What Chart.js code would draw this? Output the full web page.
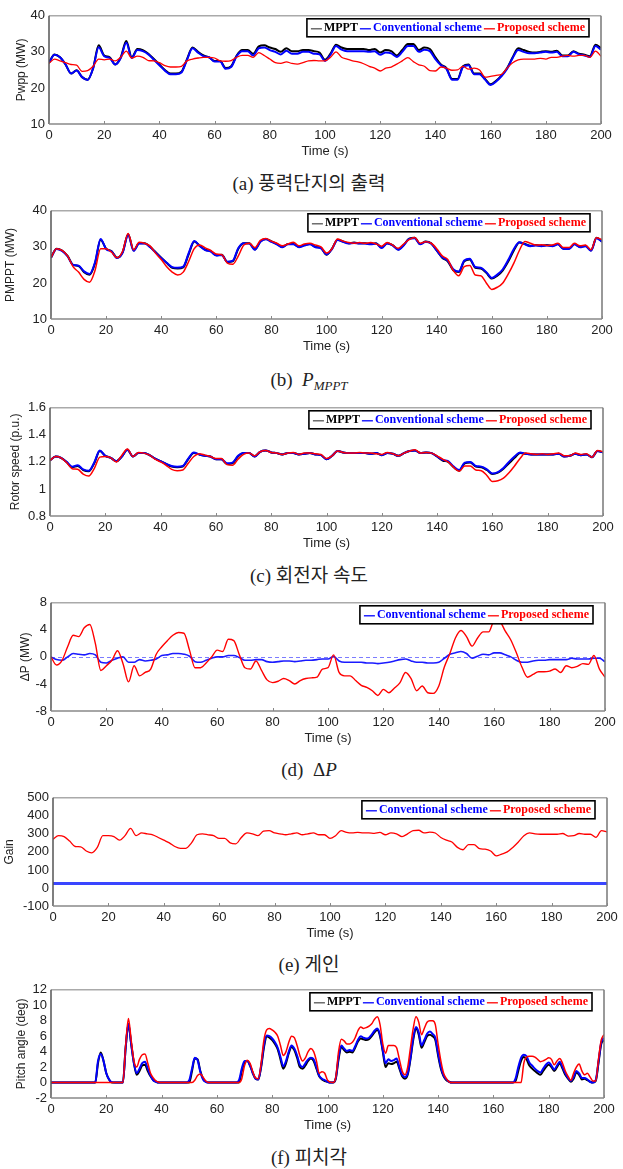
<!DOCTYPE html>
<html>
<head>
<meta charset="utf-8">
<script src="https://cdn.jsdelivr.net/npm/chart.js@4.4.1/dist/chart.umd.min.js"></script>
<style>
  body { margin: 0; background: #fff; }
  #wrap { position: relative; width: 623px; height: 1169px; overflow: hidden; }
  canvas { position: absolute; left: 0; }
  .cap { position: absolute; left: 0; width: 618px; text-align: center; font: 19px "Liberation Serif", "Noto Sans CJK KR"; line-height: 24px; color: #222; }
  .cap i { font-family: "Liberation Serif"; }
  .cap sub { font-size: 13px; vertical-align: -4px; }
</style>
</head>
<body>
<div id="wrap">
  <div class="cap" style="top:172px">(a) 풍력단지의 출력</div>
  <div class="cap" style="top:368px">(b)&nbsp; <i>P<sub>MPPT</sub></i></div>
  <div class="cap" style="top:564px">(c) 회전자 속도</div>
  <div class="cap" style="top:758px">(d)&nbsp; Δ<i>P</i></div>
  <div class="cap" style="top:953px">(e) 게인</div>
  <div class="cap" style="top:1146px">(f) 피치각</div>
</div>
<script>
// time axis (s)
const time2 = [
  0, 2, 4, 6, 8, 10, 12, 14, 16, 18,
  20, 22, 24, 26, 28, 30, 32, 34, 36, 38,
  40, 42, 44, 46, 48, 50, 52, 54, 56, 58,
  60, 62, 64, 66, 68, 70, 72, 74, 76, 78,
  80, 82, 84, 86, 88, 90, 92, 94, 96, 98,
  100, 102, 104, 106, 108, 110, 112, 114, 116, 118,
  120, 122, 124, 126, 128, 130, 132, 134, 136, 138,
  140, 142, 144, 146, 148, 150, 152, 154, 156, 158,
  160, 162, 164, 166, 168, 170, 172, 174, 176, 178,
  180, 182, 184, 186, 188, 190, 192, 194, 196, 198,
  200]
const time1 = [
  0, 1, 2, 3, 4, 5, 6, 7, 8, 9, 10, 11, 12, 13, 14, 15, 16, 17, 18, 19,
  20, 21, 22, 23, 24, 25, 26, 27, 28, 29, 30, 31, 32, 33, 34, 35, 36, 37, 38, 39,
  40, 41, 42, 43, 44, 45, 46, 47, 48, 49, 50, 51, 52, 53, 54, 55, 56, 57, 58, 59,
  60, 61, 62, 63, 64, 65, 66, 67, 68, 69, 70, 71, 72, 73, 74, 75, 76, 77, 78, 79,
  80, 81, 82, 83, 84, 85, 86, 87, 88, 89, 90, 91, 92, 93, 94, 95, 96, 97, 98, 99,
  100, 101, 102, 103, 104, 105, 106, 107, 108, 109, 110, 111, 112, 113, 114, 115, 116, 117, 118, 119,
  120, 121, 122, 123, 124, 125, 126, 127, 128, 129, 130, 131, 132, 133, 134, 135, 136, 137, 138, 139,
  140, 141, 142, 143, 144, 145, 146, 147, 148, 149, 150, 151, 152, 153, 154, 155, 156, 157, 158, 159,
  160, 161, 162, 163, 164, 165, 166, 167, 168, 169, 170, 171, 172, 173, 174, 175, 176, 177, 178, 179,
  180, 181, 182, 183, 184, 185, 186, 187, 188, 189, 190, 191, 192, 193, 194, 195, 196, 197, 198, 199,
  200]

// (a) wind farm output Pwpp (MW)
const pwppMppt = [
  27.0, 29.3, 28.5, 26.5, 24.0, 24.9, 23.0, 22.3, 25.5, 31.8,
  29.0, 28.5, 26.5, 28.5, 33.0, 28.5, 30.8, 30.5, 29.5, 28.0,
  26.5, 25.0, 24.0, 24.0, 24.5, 28.0, 31.2, 30.0, 29.0, 28.5,
  27.5, 27.5, 25.5, 26.0, 29.0, 30.5, 30.5, 29.5, 31.5, 31.8,
  31.2, 30.8, 30.0, 31.0, 30.2, 30.2, 30.5, 30.5, 30.2, 29.8,
  27.8, 29.5, 32.0, 31.2, 30.8, 30.8, 30.8, 30.8, 30.5, 30.8,
  29.8, 30.5, 30.2, 29.0, 30.5, 32.2, 32.2, 30.5, 31.2, 30.8,
  28.5, 26.5, 25.5, 22.5, 22.5, 26.0, 26.5, 24.0, 24.0, 22.5,
  21.0, 22.0, 23.5, 25.5, 28.5, 31.0, 30.5, 30.0, 29.8, 30.0,
  30.2, 30.0, 30.3, 29.0, 29.0, 30.2, 29.5, 29.2, 28.8, 32.0,
  31.0]
const pwppConv = [
  27.0, 29.2, 28.5, 26.5, 24.0, 24.8, 23.0, 22.2, 25.5, 31.3,
  28.8, 28.3, 26.5, 28.3, 32.5, 28.3, 30.5, 30.2, 29.3, 27.8,
  26.3, 24.8, 23.8, 23.8, 24.3, 27.8, 31.0, 29.8, 28.8, 28.5,
  27.3, 27.3, 25.3, 25.8, 28.8, 30.2, 30.2, 29.0, 31.0, 31.2,
  30.5, 30.0, 29.3, 30.3, 29.5, 29.5, 30.0, 30.0, 29.5, 29.3,
  27.5, 29.2, 31.6, 30.6, 30.2, 30.2, 30.2, 30.2, 30.0, 30.2,
  29.2, 29.8, 29.6, 28.6, 30.0, 31.6, 31.6, 30.0, 30.6, 30.2,
  28.0, 26.3, 25.3, 22.3, 22.3, 25.8, 26.3, 23.8, 23.8, 22.3,
  20.8, 21.8, 23.3, 25.3, 28.3, 30.5, 30.0, 29.6, 29.6, 29.8,
  30.0, 29.8, 30.0, 28.8, 28.8, 30.0, 29.3, 29.0, 28.6, 31.6,
  30.6]
const pwppProp = [
  26.8, 28.0, 27.5, 27.0, 26.5, 26.3, 24.6, 24.8, 26.0, 28.0,
  27.8, 28.0, 27.5, 28.5, 30.2, 28.3, 28.8, 28.5, 27.6, 27.5,
  27.0, 26.2, 25.8, 25.8, 26.0, 27.5, 28.0, 28.3, 28.5, 28.5,
  28.3, 27.5, 27.4, 27.6, 28.5, 29.0, 29.0, 28.5, 29.8, 29.0,
  28.0, 27.0, 26.8, 27.2, 26.8, 26.6, 27.0, 27.5, 27.6, 27.5,
  27.5, 28.5, 30.0, 28.5, 28.0, 27.5, 27.2, 26.7, 26.0, 25.5,
  24.7, 25.5, 25.8, 26.6, 27.5, 28.4, 27.3, 26.4, 26.0, 24.8,
  24.7, 25.8, 25.5, 24.9, 25.0, 26.0, 25.2, 25.5, 25.0, 23.0,
  23.2, 23.5, 23.8, 25.5, 27.0, 27.8, 28.0, 28.0, 28.0, 28.2,
  28.0, 28.5, 28.5, 28.8, 29.0, 28.8, 29.0, 29.0, 28.5, 30.2,
  28.8]

// (b) PMPPT (MW)
const pmpptMppt = [
  27.0, 29.5, 29.0, 27.5, 25.0, 24.7, 23.0, 22.3, 25.5, 32.0,
  29.5, 28.8, 27.0, 28.5, 33.5, 29.0, 31.0, 31.0, 30.0, 28.5,
  27.0, 25.5, 24.2, 24.0, 24.3, 28.0, 31.5, 30.3, 29.2, 28.8,
  27.7, 27.8, 25.8, 26.0, 29.5, 31.0, 31.0, 29.3, 31.5, 32.2,
  31.5, 30.8, 30.0, 30.8, 30.8, 30.0, 30.5, 30.8, 30.0, 29.7,
  27.8, 29.5, 32.0, 31.5, 31.0, 31.2, 31.0, 31.0, 30.8, 31.0,
  29.8, 31.0, 30.5, 29.3, 30.5, 32.3, 32.5, 30.8, 31.5, 31.0,
  29.0, 27.0, 26.0, 23.5, 23.0, 26.0, 26.5, 24.2, 24.0, 22.8,
  21.2, 22.0, 23.5, 26.0, 29.0, 31.2, 30.8, 30.3, 30.5, 30.3,
  30.5, 30.3, 30.8, 29.5, 29.5, 30.8, 30.0, 30.3, 29.0, 32.5,
  31.5]
const pmpptConv = [
  27.0, 29.4, 28.9, 27.4, 25.0, 24.8, 23.2, 22.5, 25.8, 32.2,
  29.4, 28.7, 26.9, 28.4, 33.3, 28.9, 30.9, 30.9, 29.9, 28.4,
  26.9, 25.6, 24.4, 24.2, 24.5, 28.3, 31.6, 30.2, 29.1, 28.7,
  27.6, 27.7, 25.9, 26.2, 29.7, 31.0, 30.9, 29.2, 31.4, 32.1,
  31.4, 30.7, 29.9, 30.7, 30.7, 29.9, 30.4, 30.7, 29.9, 29.6,
  27.9, 29.4, 31.9, 31.4, 30.9, 31.1, 30.9, 30.9, 30.7, 30.9,
  29.7, 30.9, 30.4, 29.2, 30.4, 32.2, 32.4, 30.7, 31.4, 30.9,
  29.0, 27.1, 26.2, 23.8, 23.2, 26.2, 26.7, 24.4, 24.2, 23.0,
  21.4, 22.3, 23.8, 26.4, 29.4, 31.3, 30.7, 30.2, 30.4, 30.2,
  30.4, 30.2, 30.7, 29.4, 29.4, 30.7, 29.9, 30.2, 28.9, 32.4,
  31.4]
const pmpptProp = [
  27.0, 29.5, 29.0, 27.5, 24.5, 23.0, 21.0, 20.2, 23.5, 29.5,
  29.5, 28.5, 27.0, 28.8, 33.7, 29.2, 31.3, 31.0, 30.2, 28.2,
  26.5, 24.5, 23.0, 22.2, 23.0, 26.0, 29.5, 30.5, 29.7, 29.0,
  28.0, 27.8, 25.5, 25.2, 27.5, 30.5, 31.0, 29.8, 31.8, 32.3,
  31.6, 31.0, 30.3, 30.8, 31.3, 30.3, 30.8, 31.0, 30.5, 30.0,
  28.3, 29.5, 32.2, 31.6, 31.2, 31.0, 31.2, 31.0, 31.2, 30.8,
  30.2, 31.2, 30.5, 29.6, 30.8, 32.0, 32.6, 31.0, 31.4, 31.0,
  29.5, 27.5, 26.5, 23.5, 22.0, 24.5, 24.8, 22.2, 22.0, 20.0,
  18.2, 18.8, 20.0, 22.5, 25.5, 29.0, 31.5, 31.0, 30.5, 30.6,
  30.4, 30.5, 31.0, 29.8, 29.8, 31.0, 30.3, 30.5, 29.2, 32.5,
  32.0]

// (c) rotor speed (p.u.)
const speedMppt = [
  1.21, 1.24, 1.23, 1.20, 1.16, 1.17, 1.14, 1.13, 1.19, 1.28,
  1.245, 1.23, 1.205, 1.24, 1.29, 1.24, 1.265, 1.265, 1.25, 1.225,
  1.205, 1.185, 1.165, 1.16, 1.165, 1.22, 1.265, 1.255, 1.245, 1.24,
  1.22, 1.22, 1.185, 1.19, 1.24, 1.265, 1.265, 1.24, 1.275, 1.285,
  1.27, 1.265, 1.255, 1.265, 1.265, 1.255, 1.26, 1.265, 1.255, 1.25,
  1.22, 1.245, 1.28, 1.27, 1.265, 1.265, 1.265, 1.265, 1.26, 1.265,
  1.25, 1.265, 1.26, 1.245, 1.265, 1.28, 1.285, 1.265, 1.27, 1.265,
  1.24, 1.21, 1.20, 1.16, 1.135, 1.19, 1.195, 1.165, 1.16, 1.14,
  1.11, 1.12, 1.15, 1.19, 1.23, 1.265, 1.26, 1.255, 1.255, 1.255,
  1.255, 1.255, 1.26, 1.24, 1.245, 1.26, 1.25, 1.255, 1.235, 1.28,
  1.27]
const speedConv = [
  1.21, 1.24, 1.23, 1.20, 1.165, 1.175, 1.145, 1.135, 1.195, 1.285,
  1.245, 1.23, 1.205, 1.24, 1.29, 1.24, 1.265, 1.265, 1.25, 1.225,
  1.205, 1.185, 1.17, 1.165, 1.17, 1.225, 1.27, 1.255, 1.245, 1.24,
  1.22, 1.22, 1.19, 1.195, 1.245, 1.265, 1.265, 1.24, 1.275, 1.285,
  1.27, 1.265, 1.255, 1.265, 1.265, 1.255, 1.26, 1.265, 1.255, 1.25,
  1.22, 1.245, 1.28, 1.27, 1.265, 1.265, 1.265, 1.265, 1.26, 1.265,
  1.25, 1.265, 1.26, 1.245, 1.265, 1.28, 1.285, 1.265, 1.27, 1.265,
  1.24, 1.215, 1.205, 1.165, 1.14, 1.195, 1.2, 1.17, 1.165, 1.145,
  1.115, 1.125, 1.155, 1.2, 1.24, 1.27, 1.26, 1.255, 1.255, 1.255,
  1.255, 1.255, 1.26, 1.24, 1.245, 1.26, 1.25, 1.255, 1.235, 1.28,
  1.27]
const speedProp = [
  1.21, 1.24, 1.23, 1.195, 1.15, 1.145, 1.11, 1.095, 1.15, 1.235,
  1.24, 1.23, 1.20, 1.25, 1.295, 1.24, 1.27, 1.265, 1.25, 1.22,
  1.20, 1.175, 1.145, 1.135, 1.14, 1.19, 1.24, 1.26, 1.25, 1.24,
  1.225, 1.225, 1.18, 1.175, 1.22, 1.255, 1.265, 1.245, 1.275, 1.285,
  1.27, 1.265, 1.255, 1.265, 1.27, 1.255, 1.265, 1.265, 1.26, 1.255,
  1.225, 1.245, 1.28, 1.27, 1.265, 1.265, 1.27, 1.265, 1.265, 1.26,
  1.255, 1.27, 1.26, 1.245, 1.265, 1.28, 1.29, 1.265, 1.27, 1.265,
  1.245, 1.22, 1.20, 1.16, 1.13, 1.17, 1.17, 1.14, 1.135, 1.10,
  1.055, 1.06, 1.08, 1.12, 1.17, 1.225, 1.265, 1.26, 1.255, 1.26,
  1.255, 1.26, 1.265, 1.245, 1.245, 1.265, 1.255, 1.26, 1.235, 1.285,
  1.275]

// (d) delta P (MW)
const dpConv = [
  0, -0.4, -0.5, 0, 0.5, 0.4, 0.3, 0.5, 0.3, -0.8,
  -0.9, -0.5, -0.2, 0, -0.8, -0.8, -0.4, -0.6, -0.5, -0.3,
  0.2, 0.3, 0.5, 0.5, 0.4, 0.1, -0.7, -0.8, -0.5, -0.2,
  0, 0, 0.2, 0.2, -0.1, -0.5, -0.5, -0.4, -0.4, -0.7,
  -0.8, -0.7, -0.6, -0.6, -0.7, -0.6, -0.5, -0.5, -0.4, -0.3,
  -0.3, 0.1, -0.6, -0.8, -0.8, -0.8, -0.8, -0.9, -0.9, -1.0,
  -0.9, -0.8, -0.6, -0.4, -0.3, -0.6, -0.8, -0.8, -0.9, -0.9,
  -0.8, -0.2, 0.4, 0.6, 0.8, 0.5, -0.2, 0.1, 0.4, 0.3,
  0.6, 0.6, 0.3, 0, -0.5, -0.8, -0.8, -0.6, -0.5, -0.5,
  -0.4, -0.4, -0.4, -0.4, -0.2, -0.3, -0.3, -0.3, -0.2, -0.2,
  -0.7]
const dpProp = [
  0, -1.2, -0.5, 1.5, 3.2, 3.0, 4.3, 4.8, 2.0, -2.0,
  -1.3, -0.5, 0.9, -1.0, -3.7, -1.3, -2.8, -2.3, -1.8, 0.4,
  1.5, 2.4, 3.2, 3.6, 3.5, 1.0, -1.6, -1.6, -0.9, 0.0,
  1.0, 0.8, 2.6, 2.4, 0.3, -1.6, -1.8, -0.6, -2.0, -3.4,
  -3.8, -3.6, -3.2, -3.5, -4.0, -3.5, -3.2, -3.1, -3.0, -1.8,
  -1.6, 0.3, -2.3, -2.8, -2.8, -3.5, -4.2, -4.5, -5.0, -5.7,
  -4.8, -5.3, -4.6, -3.8, -2.3, -3.2, -5.0, -4.3, -5.3, -5.4,
  -4.3, -1.5, 0.5, 2.8, 3.9, 3.0, 1.6, 2.8, 3.7, 3.7,
  5.3, 5.2, 3.8, 2.5, 0.6, -1.5, -3.0, -2.6, -2.2, -2.2,
  -2.1, -1.8, -2.3, -1.3, -1.6, -1.4, -1.0, -1.1, 0.2, -1.8,
  -3.0]

// (e) gain
const gainConvTime = [0, 200]
const gainConv = [25, 25]
const gainProp = [
  270, 290, 285, 260, 230, 228, 205, 195, 225, 290,
  290, 285, 265, 290, 330, 290, 305, 300, 295, 280,
  265, 250, 230, 220, 220, 250, 295, 300, 295, 290,
  275, 275, 250, 245, 280, 305, 300, 290, 315, 318,
  305, 300, 295, 300, 305, 295, 300, 305, 295, 295,
  275, 290, 318, 308, 305, 308, 305, 305, 303, 308,
  295, 305, 300, 285, 300, 318, 320, 305, 310, 305,
  280, 265, 255, 225, 212, 240, 240, 218, 215, 205,
  178, 188, 200, 225, 255, 290, 305, 300, 298, 298,
  298, 298, 302, 288, 290, 302, 298, 298, 280, 318,
  310]

// (f) pitch angle (deg), 1 s steps
const pitchMppt = [
  0, 0, 0, 0, 0, 0, 0, 0, 0, 0,
  0, 0, 0, 0, 0, 0, 0, 2.5, 3.9, 2.8,
  1.2, 0.4, 0, 0, 0, 0, 0, 4.5, 7.5, 5.0,
  2.5, 1.0, 1.5, 2.2, 2.3, 1.5, 0.8, 0.3, 0.1, 0,
  0, 0, 0, 0, 0, 0, 0, 0, 0, 0,
  0, 1.5, 3.1, 3.0, 1.5, 0.5, 0.1, 0, 0, 0,
  0, 0, 0, 0, 0, 0, 0, 0, 0, 1.5,
  2.6, 2.8, 2.2, 1.2, 0.5, 0.4, 2.0, 4.5, 6.0, 5.8,
  5.5, 5.0, 4.3, 3.0, 1.8, 2.5, 3.8, 4.6, 4.2, 3.2,
  2.0, 1.8, 2.2, 2.8, 3.1, 2.8, 1.8, 0.8, 0.4, 0.2,
  0.1, 0, 0, 0.5, 3.0, 4.6, 4.2, 3.9, 4.0, 3.9,
  4.5, 5.3, 5.7, 5.6, 5.5, 5.6, 6.0, 6.5, 6.8, 6.0,
  4.0, 2.0, 2.5, 2.4, 2.5, 2.7, 1.8, 0.8, 0.5, 1.0,
  3.0, 5.5, 7.0, 6.2, 4.5, 5.2, 6.0, 6.2, 6.0, 5.5,
  3.5, 1.8, 0.8, 0.3, 0.1, 0, 0, 0, 0, 0,
  0, 0, 0, 0, 0, 0, 0, 0, 0, 0,
  0, 0, 0, 0, 0, 0, 0, 0, 0.2, 1.5,
  2.8, 3.3, 3.0, 2.2, 1.8, 1.5, 1.2, 1.0, 1.5, 2.0,
  2.3, 2.0, 1.5, 2.0, 2.5, 1.8, 1.0, 0.5, 0.1, 0.5,
  1.3, 1.0, 0.4, 0.5, 0.3, 0.1, 0, 0.2, 2.5, 5.0,
  5.5]
const pitchConv = [
  0, 0, 0, 0, 0, 0, 0, 0, 0, 0,
  0, 0, 0, 0, 0, 0, 0, 2.8, 3.7, 2.8,
  1.2, 0.4, 0.05, 0, 0, 0, 0, 4.5, 7.6, 5.0,
  2.5, 1.2, 1.8, 2.5, 2.7, 1.8, 0.9, 0.3, 0.1, 0,
  0, 0, 0, 0, 0, 0, 0, 0, 0, 0,
  0.3, 1.8, 3.2, 2.9, 1.4, 0.4, 0.1, 0, 0, 0,
  0, 0, 0, 0, 0, 0, 0, 0, 0.3, 1.8,
  2.8, 2.8, 2.2, 1.2, 0.5, 0.4, 2.2, 4.8, 6.1, 6.0,
  5.7, 5.2, 4.5, 3.3, 2.1, 2.8, 4.0, 4.8, 4.4, 3.5,
  2.3, 2.0, 2.5, 3.0, 3.2, 3.0, 2.0, 0.9, 0.5, 0.3,
  0.1, 0, 0, 0.6, 3.3, 4.8, 4.4, 4.1, 4.2, 4.1,
  4.7, 5.5, 6.0, 5.8, 5.7, 5.8, 6.2, 6.7, 7.0, 6.2,
  4.2, 2.5, 3.0, 2.8, 2.9, 3.1, 2.0, 1.0, 0.7, 1.2,
  3.2, 5.8, 7.2, 6.5, 4.8, 5.5, 6.3, 6.6, 6.3, 5.8,
  3.8, 2.0, 0.9, 0.4, 0.1, 0, 0, 0, 0, 0,
  0, 0, 0, 0, 0, 0, 0, 0, 0, 0,
  0, 0, 0, 0, 0, 0, 0, 0, 0.5, 2.0,
  3.2, 3.6, 3.4, 2.6, 2.2, 1.8, 1.5, 1.3, 1.8, 2.3,
  2.6, 2.2, 1.7, 2.2, 2.7, 2.0, 1.2, 0.6, 0.2, 0.7,
  1.5, 1.2, 0.6, 0.6, 0.4, 0.1, 0, 0.3, 2.7, 5.2,
  5.8]
const pitchProp = [
  0, 0, 0, 0, 0, 0, 0, 0, 0, 0,
  0, 0, 0, 0, 0, 0, 0, 0, 0, 0,
  0, 0, 0, 0, 0, 0, 0, 4.8, 8.3, 5.5,
  2.8, 2.0, 3.0, 3.6, 3.7, 2.5, 1.2, 0.6, 0.2, 0.05,
  0, 0, 0, 0, 0, 0, 0, 0, 0, 0,
  0, 0, 0.3, 0.9, 1.1, 0.7, 0.2, 0, 0, 0,
  0, 0, 0, 0, 0, 0, 0, 0, 0, 0.5,
  2.2, 2.9, 2.5, 1.4, 0.6, 0.5, 2.5, 5.5, 6.8, 7.0,
  6.8, 6.5, 6.0, 4.8, 3.5, 4.0, 5.2, 6.0, 5.8, 4.8,
  3.5, 2.8, 3.2, 4.0, 4.4, 4.0, 2.8, 1.2, 1.4, 1.2,
  0.3, 0.05, 0, 0.7, 4.0, 5.6, 5.4, 5.0, 5.0, 5.2,
  5.8, 6.7, 7.2, 7.0, 7.1, 7.3, 7.6, 8.2, 8.5, 7.5,
  5.0, 3.8, 4.8, 4.8, 4.8, 4.5, 3.0, 1.5, 1.0, 2.0,
  4.5, 7.0, 8.5, 7.8, 6.2, 7.0, 7.8, 8.0, 8.0, 7.5,
  5.0, 2.8, 1.2, 0.5, 0.1, 0, 0, 0, 0, 0,
  0, 0, 0, 0, 0, 0, 0, 0, 0, 0,
  0, 0, 0, 0, 0, 0, 0, 0, 0, 0,
  0, 2.5, 3.3, 3.4, 3.4, 3.3, 3.0, 2.7, 2.8, 3.0,
  3.2, 3.0, 2.3, 2.8, 3.1, 2.5, 1.5, 0.8, 0.3, 1.2,
  2.0, 2.4, 1.5, 1.0, 1.2, 0.7, 0.2, 0.2, 3.0, 5.5,
  6.2]

const BLACK = '#000000', BLUE = '#0000ff', RED = '#ff0000'
const tickFont = { family: '"Liberation Sans", Arial, sans-serif', size: 13 }

function pts(xs, ys) {
  return ys.map((y, i) => ({ x: xs[i], y: y }))
}

// gray frame around the plot with small ticks on the time axis
const framePlugin = {
  id: 'frame',
  afterDatasetsDraw(chart) {
    const { ctx, chartArea: a } = chart
    const x = chart.scales.x
    ctx.save()
    ctx.lineWidth = 1.5
    ctx.strokeStyle = '#aaaaaa'
    ctx.beginPath(); ctx.moveTo(a.left, a.top); ctx.lineTo(a.right, a.top); ctx.stroke()
    ctx.strokeStyle = '#777777'
    ctx.beginPath(); ctx.moveTo(a.right, a.top); ctx.lineTo(a.right, a.bottom); ctx.stroke()
    ctx.strokeStyle = '#555555'
    ctx.beginPath(); ctx.moveTo(a.left, a.top); ctx.lineTo(a.left, a.bottom); ctx.stroke()
    ctx.strokeStyle = '#888888'
    ctx.beginPath(); ctx.moveTo(a.left, a.bottom); ctx.lineTo(a.right, a.bottom); ctx.stroke()
    ctx.lineWidth = 1
    x.ticks.forEach(t => {
      const px = Math.round(x.getPixelForValue(t.value)) + 0.5
      ctx.beginPath(); ctx.moveTo(px, a.bottom); ctx.lineTo(px, a.bottom - 3); ctx.stroke()
    })
    ctx.restore()
  }
}

// boxed legend in the upper right corner of the plot
const boxLegend = {
  id: 'boxLegend',
  afterDraw(chart) {
    const { ctx, chartArea: a } = chart
    // keep the dataset order of the array, not the drawing order
    const sets = chart.data.datasets.filter(d => d.label)
    ctx.save()
    ctx.font = 'bold 12px "Liberation Serif", serif'
    const seg = 11, padL = 4, padR = 2
    let w = padL + padR
    sets.forEach(d => { w += seg + 2 + ctx.measureText(d.label).width + 2 })
    const h = 18, right = a.right - 12, top = a.top + 3, left = right - w
    ctx.fillStyle = '#fff'
    ctx.fillRect(left, top, w, h)
    ctx.lineWidth = 1.6
    ctx.strokeStyle = '#000'
    ctx.strokeRect(left, top, w, h)
    let x = left + padL
    const cy = top + h / 2
    sets.forEach(d => {
      ctx.strokeStyle = d.keyColor
      ctx.lineWidth = 1.3
      ctx.beginPath(); ctx.moveTo(x, cy + 1); ctx.lineTo(x + seg, cy + 1); ctx.stroke()
      x += seg + 2
      ctx.fillStyle = d.textColor
      ctx.textBaseline = 'middle'
      ctx.fillText(d.label, x, cy + 0.5)
      x += ctx.measureText(d.label).width + 2
    })
    ctx.restore()
  }
}

// dashed zero reference line for the delta P plot
const zeroLine = {
  id: 'zeroLine',
  beforeDatasetsDraw(chart) {
    const { ctx, chartArea: a } = chart
    const py = Math.round(chart.scales.y.getPixelForValue(0)) + 0.5
    ctx.save()
    ctx.strokeStyle = '#7c7cff'
    ctx.lineWidth = 1
    ctx.setLineDash([4, 3])
    ctx.beginPath(); ctx.moveTo(a.left, py); ctx.lineTo(a.right, py); ctx.stroke()
    ctx.restore()
  }
}

// order: higher numbers are drawn first (underneath)
function line(label, data, color, width, textColor, keyColor, order) {
  return {
    label: label,
    data: data,
    borderColor: color,
    borderWidth: width,
    textColor: textColor,
    keyColor: keyColor || color,
    order: order,
    pointRadius: 0,
    cubicInterpolationMode: 'monotone',
    fill: false
  }
}

function makeChart(c) {
  const canvas = document.createElement('canvas')
  canvas.width = 623
  canvas.height = 160
  canvas.style.top = (c.top - 6) + 'px'
  document.getElementById('wrap').appendChild(canvas)
  new Chart(canvas, {
    type: 'line',
    data: { datasets: c.datasets },
    plugins: [framePlugin, boxLegend].concat(c.extra || []),
    options: {
      responsive: false,
      animation: false,
      devicePixelRatio: 1,
      layout: { padding: { top: 6, right: 623 - c.right, left: 0, bottom: 0 } },
      plugins: { legend: { display: false }, tooltip: { enabled: false } },
      scales: {
        x: {
          type: 'linear', min: 0, max: 200,
          grid: { display: false, drawTicks: false },
          border: { display: false },
          ticks: { stepSize: 20, autoSkip: false, font: tickFont, color: '#222', padding: 4, maxRotation: 0 },
          title: { display: true, text: 'Time (s)', font: tickFont, color: '#222', padding: { top: 0, bottom: 5 } },
          afterFit: s => { s.height = 40 }
        },
        y: {
          min: c.min, max: c.max,
          grid: { display: false, drawTicks: false },
          border: { display: false },
          ticks: { stepSize: c.step, autoSkip: false, font: tickFont, color: '#222', padding: 4,
            callback: v => String(Math.round(v * 10) / 10) },
          title: { display: true, text: c.ytitle, color: '#222',
            font: { family: '"Liberation Sans", Arial, sans-serif', size: 12 },
            padding: { top: c.titlePad, bottom: 0 } },
          afterFit: s => { s.width = c.left }
        }
      }
    }
  })
}

makeChart({
  top: 10, left: 49, right: 601, min: 10, max: 40, step: 10, ytitle: 'Pwpp (MW)', titlePad: 14,
  datasets: [
    line('MPPT', pts(time2, pwppMppt), BLACK, 2, BLACK, '#555', 3),
    line('Conventional scheme', pts(time2, pwppConv), BLUE, 2, BLUE, BLUE, 2),
    line('Proposed scheme', pts(time2, pwppProp), RED, 1.3, RED, RED, 1)
  ]
})
makeChart({
  top: 205, left: 51, right: 602, min: 10, max: 40, step: 10, ytitle: 'PMPPT (MW)', titlePad: 3,
  datasets: [
    line('MPPT', pts(time2, pmpptMppt), BLACK, 2, BLACK, '#555', 3),
    line('Conventional scheme', pts(time2, pmpptConv), BLUE, 2, BLUE, BLUE, 2),
    line('Proposed scheme', pts(time2, pmpptProp), RED, 1.5, RED, RED, 1)
  ]
})
makeChart({
  top: 402, left: 50, right: 603, min: 0.8, max: 1.6, step: 0.2, ytitle: 'Rotor speed (p.u.)', titlePad: 8,
  datasets: [
    line('MPPT', pts(time2, speedMppt), BLACK, 2, BLACK, '#555', 3),
    line('Conventional scheme', pts(time2, speedConv), BLUE, 2, BLUE, BLUE, 2),
    line('Proposed scheme', pts(time2, speedProp), RED, 1.5, RED, RED, 1)
  ]
})
makeChart({
  top: 597, left: 51, right: 605, min: -8, max: 8, step: 4, ytitle: 'ΔP (MW)', titlePad: 18,
  extra: [zeroLine],
  datasets: [
    line('Conventional scheme', pts(time2, dpConv), '#1a1aff', 1.6, BLUE, BLUE, 2),
    line('Proposed scheme', pts(time2, dpProp), RED, 1.4, RED, RED, 1)
  ]
})
makeChart({
  top: 792, left: 53, right: 607, min: -100, max: 500, step: 100, ytitle: 'Gain', titlePad: 2,
  datasets: [
    line('Conventional scheme', pts(gainConvTime, gainConv), '#3a46ff', 3, BLUE, BLUE, 2),
    line('Proposed scheme', pts(time2, gainProp), RED, 1.3, RED, RED, 1)
  ]
})
makeChart({
  top: 984, left: 51, right: 604, min: -2, max: 12, step: 2, ytitle: 'Pitch angle (deg)', titlePad: 14,
  datasets: [
    line('MPPT', pts(time1, pitchMppt), BLACK, 2, BLACK, '#555', 3),
    line('Conventional scheme', pts(time1, pitchConv), BLUE, 2, BLUE, BLUE, 2),
    line('Proposed scheme', pts(time1, pitchProp), RED, 1.5, RED, RED, 1)
  ]
})
</script>
</body>
</html>
